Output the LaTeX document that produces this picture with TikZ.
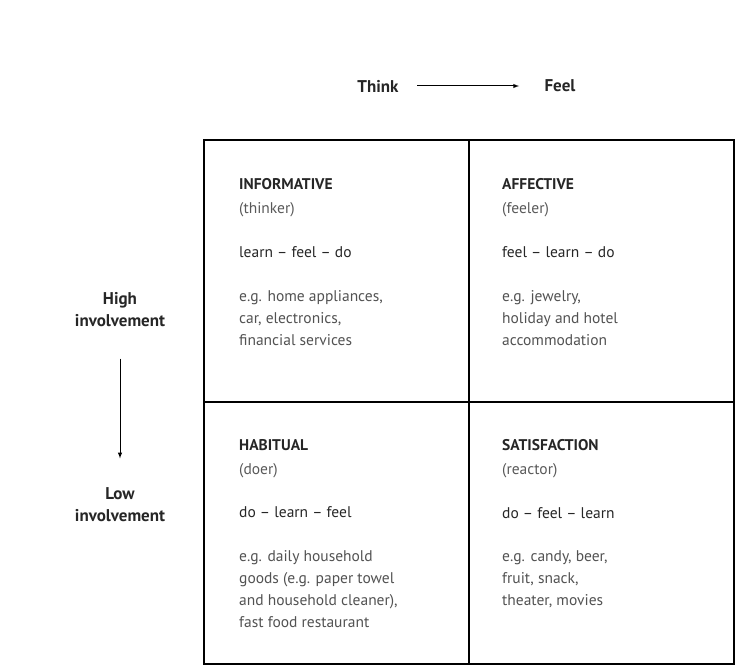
\documentclass[tikz,border=0pt]{standalone}
\usepackage{fontspec}
\setmainfont{PT Sans}
\usetikzlibrary{positioning,arrows}

\begin{document}
\begin{tikzpicture}[x=1pt, y=-1pt, node distance = 29pt, >=latex,
    cell/.style={draw, line width=1.2pt, outer sep=0pt, inner sep=0pt, minimum width=265pt, minimum height=262pt},
    axis/.style={font=\fontsize{17}{22}\selectfont\bfseries, text=black!85, align=center},
    heading/.style={inner sep=0pt, align=left, font=\fontsize{15.5}{24}\selectfont, text=black!85},
    motto/.style={inner sep=0pt, align=left, font=\fontsize{15.5}{22}\selectfont, text=black!85},
    example/.style={inner sep=0pt, align=left, font=\fontsize{15.5}{22}\selectfont, text=black!68}
    ]
    \useasboundingbox (0,0) rectangle (756,666);

    \node[cell, anchor=north west] (tl) at (204,140) {};
    \node[cell, right=0pt of tl] (tr) {};
    \node[cell, below=0pt of tl] (bl) {};
    \node[cell, below=0pt of tr] (br) {};

    \node[axis] (think) at (378,86) {Think};
    \node[axis] (feel) at (560,86) {Feel};
    \draw[->, line width=1pt, shorten <=15pt, shorten >=22pt] (think) to (feel);

    \node[axis] (high) at (120,310) {High\\involvement};
    \node[axis] (low) at (120,505) {Low\\involvement};
    \draw[->, line width=1pt, shorten <=28pt, shorten >=26pt] (high) to (low);

    \node[heading, below right=38pt and 35pt of tl.north west] (informative) {\textbf{INFORMATIVE}\\\textcolor{black!65}{(thinker)}};
    \node[motto, below=of informative.south west, anchor=north west] (think_first) {learn -- feel -- do};
    \node[example, below=33pt of think_first.south west, anchor=north west] (inf_examples) {e.g. home appliances,\\car, electronics,\\financial services};

    \node[heading, below right=38pt and 33pt of tr.north west] (affective) {\textbf{AFFECTIVE}\\\textcolor{black!65}{(feeler)}};
    \node[motto, below=of affective.south west, anchor=north west] (feel_first) {feel -- learn -- do};
    \node[example, below=33pt of feel_first.south west, anchor=north west] (aff_examples) {e.g. jewelry,\\holiday and hotel\\accommodation};

    \node[heading, below right=37pt and 35pt of bl.north west] (habitual) {\textbf{HABITUAL}\\\textcolor{black!65}{(doer)}};
    \node[motto, below=of habitual.south west, anchor=north west] (do_learn) {do -- learn -- feel};
    \node[example, below=32pt of do_learn.south west, anchor=north west] (hab_examples) {e.g. daily household\\goods (e.g. paper towel\\and household cleaner),\\fast food restaurant};

    \node[heading, below right=37pt and 33pt of br.north west] (satisfaction) {\textbf{SATISFACTION}\\\textcolor{black!65}{(reactor)}};
    \node[motto, below=of satisfaction.south west, anchor=north west] (do_feel) {do -- feel -- learn};
    \node[example, below=32pt of do_feel.south west, anchor=north west] (sat_examples) {e.g. candy, beer,\\fruit, snack,\\theater, movies};
\end{tikzpicture}
\end{document}
